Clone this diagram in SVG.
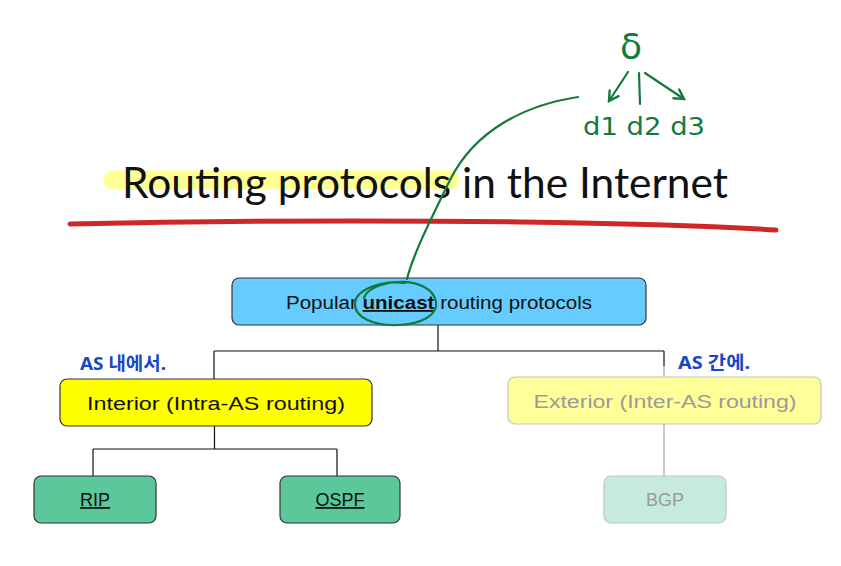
<svg xmlns="http://www.w3.org/2000/svg" width="841" height="566" viewBox="0 0 841 566">
<defs>
<style>
.box{stroke:#333;stroke-width:1.2}
.faded{stroke:#c4c4c4;stroke-width:1.2}
.lbl{font-family:"Liberation Sans","DejaVu Sans",sans-serif;font-size:18px;fill:#111;text-anchor:middle}
.flbl{font-family:"Liberation Sans","DejaVu Sans",sans-serif;font-size:18px;fill:#9a9a9a;text-anchor:middle}
.conn{stroke:#111;stroke-width:1.2;fill:none}
.gconn{stroke:#c8c8c8;stroke-width:2;fill:none}
.ink{stroke:#117a3c;stroke-width:2.2;fill:none;stroke-linecap:round;stroke-linejoin:round}
.inktxt{font-family:"DejaVu Sans","Noto Sans",sans-serif;fill:#117a3c}
.blue{font-family:"Noto Sans","Noto Sans CJK KR",sans-serif;fill:#1748c4;font-weight:bold;font-size:18px}
</style>
<marker id="ah" viewBox="0 0 10 10" refX="8" refY="5" markerWidth="6" markerHeight="6" orient="auto">
<path d="M1,1 L8,5 L1,9" fill="none" stroke="#117a3c" stroke-width="1.8" stroke-linecap="round"/>
</marker>
</defs>
<rect width="841" height="566" fill="#fff"/>

<!-- title -->
<g id="title">
<path d="M113,180 L450,180" stroke="#ffff80" stroke-opacity="0.85" stroke-width="19" stroke-linecap="round"/>
<text x="122" y="198" font-family="Lato,'Open Sans',sans-serif" font-size="42" fill="#111" textLength="606" lengthAdjust="spacingAndGlyphs">Routing protocols in the Internet</text>
<path d="M70,224 Q300,219 520,222 Q680,224 776,230" stroke="#cf2727" stroke-width="5" fill="none" stroke-linecap="round"/>
</g>

<!-- connectors -->
<g id="connectors">
<path class="conn" d="M438,325 V351 M214,351 H664 M214,351 V380 M664,351 V366"/>
<path class="gconn" d="M664,366 V378 M664,424 V476"/>
<path class="conn" d="M214.5,426 V449 M93,449 H337 M93,449 V476 M337,449 V476"/>
</g>

<g id="node-popular">
<rect class="box" x="232" y="278" width="414" height="47" rx="7" fill="#66ccff"/>
<text class="lbl" x="439" y="309" textLength="306" lengthAdjust="spacingAndGlyphs">Popular <tspan font-weight="bold" text-decoration="underline">unicast</tspan> routing protocols</text>
</g>

<g id="node-interior">
<rect class="box" x="60" y="379" width="312" height="47" rx="7" fill="#ffff00"/>
<text class="lbl" x="216" y="410" textLength="258" lengthAdjust="spacingAndGlyphs">Interior (Intra-AS routing)</text>
</g>

<g id="node-exterior">
<rect class="faded" x="508" y="377" width="313" height="47" rx="7" fill="#ffff99"/>
<text class="flbl" x="665" y="408" textLength="263" lengthAdjust="spacingAndGlyphs">Exterior (Inter-AS routing)</text>
</g>

<g id="node-rip">
<rect class="box" x="34" y="476" width="122" height="47" rx="7" fill="#5cc79a"/>
<text class="lbl" x="95" y="506" text-decoration="underline">RIP</text>
</g>

<g id="node-ospf">
<rect class="box" x="280" y="476" width="120" height="47" rx="7" fill="#5cc79a"/>
<text class="lbl" x="340" y="506" text-decoration="underline">OSPF</text>
</g>

<g id="node-bgp">
<rect class="faded" x="604" y="476" width="122" height="47" rx="7" fill="#c6ebdd"/>
<text class="flbl" x="665" y="506">BGP</text>
</g>

<!-- handwritten annotations -->
<g id="annotations">
<path class="ink" d="M578,97 C525,105 475,130 450,180 C428,225 413,255 407,279"/>
<path class="ink" d="M405,283 C380,280 356,290 355,303 C354,318 375,326 398,325 C422,324 438,315 436,302 C434,289 418,281 398,282 C380,283 366,290 364,298"/>
<text class="inktxt" x="631" y="59" font-size="36" text-anchor="middle">δ</text>
<line class="ink" x1="628" y1="72" x2="609" y2="101" marker-end="url(#ah)"/>
<line class="ink" x1="639" y1="73" x2="640" y2="104"/>
<line class="ink" x1="645" y1="73" x2="684" y2="99" marker-end="url(#ah)"/>
<text class="inktxt" x="583" y="135" font-size="25" textLength="122" lengthAdjust="spacingAndGlyphs">d1 d2 d3</text>
<text class="blue" x="80" y="370" textLength="86" lengthAdjust="spacingAndGlyphs">AS 내에서.</text>
<text class="blue" x="678" y="369" textLength="72" lengthAdjust="spacingAndGlyphs">AS 간에.</text>
</g>
</svg>
